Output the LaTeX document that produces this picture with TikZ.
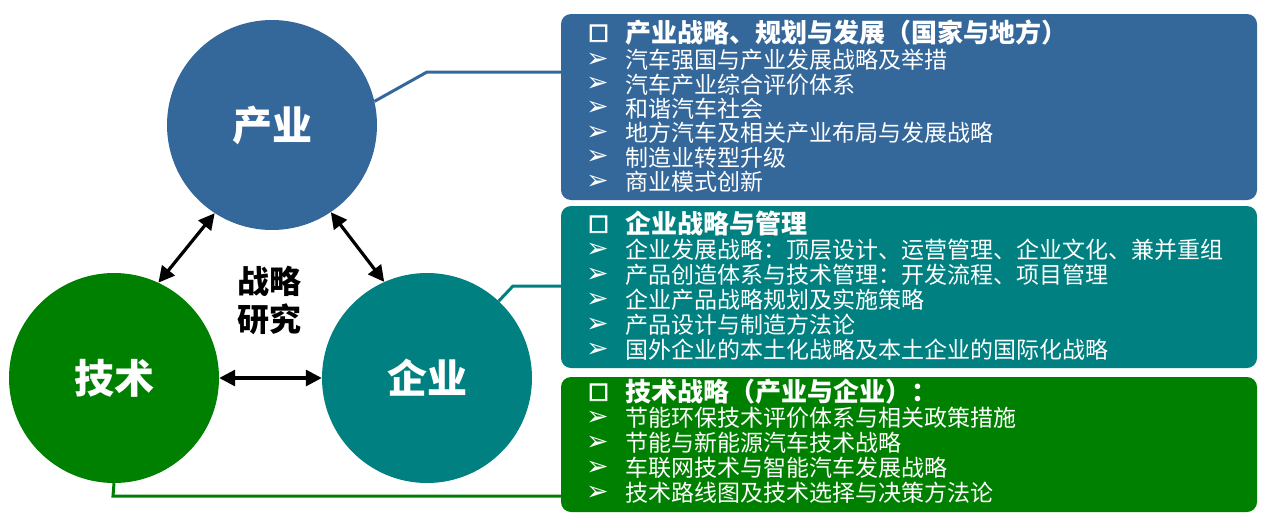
\documentclass[tikz,border=0pt]{standalone}
\usepackage{fontspec}
\setmainfont{Noto Sans CJK SC}
\newfontfamily\symfont{DejaVu Sans}
\newfontfamily\sqfont[FakeBold=4]{DejaVu Sans}
\usetikzlibrary{arrows.meta}
\definecolor{cblue}{RGB}{52,103,154}
\definecolor{cteal}{RGB}{0,128,128}
\definecolor{cgreen}{RGB}{0,128,0}
\tikzset{
  x=1pt,y=-1pt,
  ball/.style={circle,inner sep=0pt,minimum size=210pt,text=white,font=\fontsize{40}{44}\selectfont\bfseries},
  panel/.style={rounded corners=10pt,inner sep=0pt},
  ttl/.style={anchor=west,inner sep=0pt,text=white,font=\fontsize{26}{28}\selectfont\bfseries},
  itm/.style={anchor=west,inner sep=0pt,text=white,font=\fontsize{23}{25}\selectfont},
  sq/.style={inner sep=0pt,text=white,text height=14pt,text depth=0pt,font=\sqfont\fontsize{22}{24}\selectfont},
  arw/.style={inner sep=0pt,text=white,text height=16pt,text depth=0pt,font=\symfont\fontsize{27}{29}\selectfont},
  rel/.style={{Triangle[length=16pt,width=16pt]}-{Triangle[length=16pt,width=16pt]},line width=3.2pt,black},
  link/.style={line width=3pt}
}
\begin{document}
\begin{tikzpicture}
\useasboundingbox (0,0) rectangle (1269,517);
% panels
\path[fill=cblue,panel] (561,14) rectangle (1257,200);
\node[panel,minimum width=696pt,minimum height=186pt] (p1) at (909,107) {};
\path[fill=cteal,panel] (561,206) rectangle (1257,368);
\node[panel,minimum width=696pt,minimum height=162pt] (p2) at (909,287) {};
\path[fill=cgreen,panel] (561,377) rectangle (1257,512);
\node[panel,minimum width=696pt,minimum height=135pt] (p3) at (909,444.5) {};
% circles
\node[ball,fill=cblue] (cy) at (272,125) {产业};
\node[ball,fill=cgreen] (js) at (114,378) {技术};
\node[ball,fill=cteal] (qy) at (427,378) {企业};
\node[inner sep=0pt,align=center,font=\fontsize{32}{38}\selectfont\bfseries] (zl) at (269,300) {战略\\研究};
% relations
\draw[rel] (cy.237.7) -- (js.65.2);
\draw[rel] (cy.304) -- (qy.114.3);
\draw[rel] (js.east) -- (qy.west);
% links
\coordinate (k1) at (427,72);
\coordinate (k2) at (513,286);
\coordinate (k3) at (113,496);
\draw[link,cblue] (cy.13.4) -- (k1) -- (p1.west |- k1);
\draw[link,cteal] (qy.47) -- (k2) -- (p2.west |- k2);
\draw[link,cgreen] (js.south) -- (k3) -- (p3.west |- k3);
% panel 1 text
\node[sq] (s1) at (598.5,32) {□};
\node[ttl] (t1) at (625,33) {产业战略、规划与发展（国家与地方）};
\foreach \t [count=\i] in {汽车强国与产业发展战略及举措,汽车产业综合评价体系,和谐汽车社会,地方汽车及相关产业布局与发展战略,制造业转型升级,商业模式创新}{
  \node[arw] (a1-\i) at (597.5,{59+24.4*(\i-1)}) {➢};
  \node[itm] (i1-\i) at (625,{60+24.4*(\i-1)}) {\t};
}
% panel 2 text
\node[sq] (s2) at (598.5,223) {□};
\node[ttl] (t2) at (625,224) {企业战略与管理};
\foreach \t [count=\i] in {企业发展战略：顶层设计、运营管理、企业文化、兼并重组,产品创造体系与技术管理：开发流程、项目管理,企业产品战略规划及实施策略,产品设计与制造方法论,国外企业的本土化战略及本土企业的国际化战略}{
  \node[arw] (a2-\i) at (597.5,{249+25*(\i-1)}) {➢};
  \node[itm] (i2-\i) at (625,{250+25*(\i-1)}) {\t};
}
% panel 3 text
\node[sq] (s3) at (598.5,391) {□};
\node[ttl] (t3) at (625,392) {技术战略（产业与企业）：};
\foreach \t [count=\i] in {节能环保技术评价体系与相关政策措施,节能与新能源汽车技术战略,车联网技术与智能汽车发展战略,技术路线图及技术选择与决策方法论}{
  \node[arw] (a3-\i) at (597.5,{417+25*(\i-1)}) {➢};
  \node[itm] (i3-\i) at (625,{418+25*(\i-1)}) {\t};
}
\end{tikzpicture}
\end{document}
